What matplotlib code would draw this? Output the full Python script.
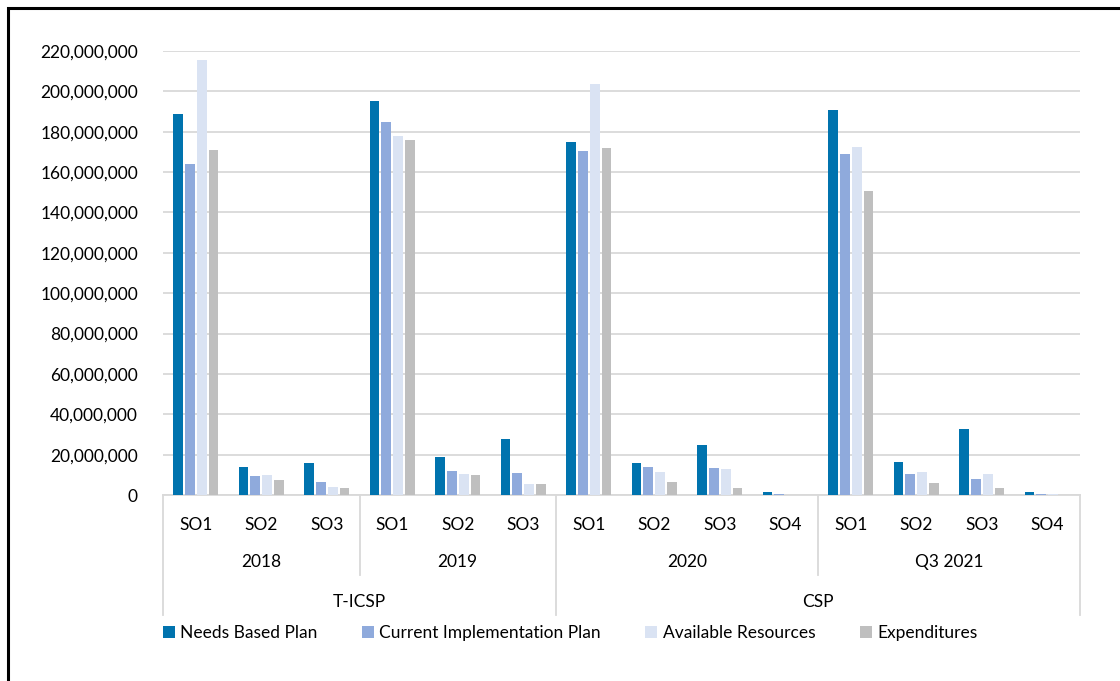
import numpy as np
import matplotlib.pyplot as plt
from matplotlib.patches import Rectangle

plt.rcParams['font.family'] = ['Lato', 'DejaVu Sans']

# categories
so_labels = ['SO1', 'SO2', 'SO3', 'SO1', 'SO2', 'SO3',
             'SO1', 'SO2', 'SO3', 'SO4', 'SO1', 'SO2', 'SO3', 'SO4']
years = ['2018', '2019', '2020', 'Q3 2021']
year_sizes = [3, 3, 4, 4]
programs = ['T-ICSP', 'CSP']
program_sizes = [6, 8]

# series values
needs_based = [188.9e6, 13.9e6, 16.0e6, 195.4e6, 18.9e6, 27.8e6,
               174.7e6, 15.7e6, 24.8e6, 1.5e6, 190.9e6, 16.4e6, 32.8e6, 1.5e6]
current_impl = [163.8e6, 9.3e6, 6.3e6, 184.8e6, 11.9e6, 11.1e6,
                170.4e6, 13.9e6, 13.4e6, 0.7e6, 169.2e6, 10.3e6, 8.1e6, 0.3e6]
available = [215.4e6, 9.8e6, 4.1e6, 177.8e6, 10.6e6, 5.3e6,
             203.6e6, 11.4e6, 13.1e6, 0.0, 172.4e6, 11.4e6, 10.6e6, 0.3e6]
expenditures = [170.7e6, 7.4e6, 3.5e6, 175.8e6, 9.9e6, 5.3e6,
                171.9e6, 6.6e6, 3.6e6, 0.0, 150.4e6, 6.0e6, 3.5e6, 0.0]

series_names = ['Needs Based Plan', 'Current Implementation Plan',
                'Available Resources', 'Expenditures']
series = [needs_based, current_impl, available, expenditures]
colors = ['#0073AE', '#8FAADC', '#DAE3F3', '#BFBFBF']


def main():
    fig = plt.figure(figsize=(11.2, 6.81), dpi=100)
    ax = fig.add_axes([163 / 1120, 1 - 495 / 681, (1080 - 163) / 1120, (495 - 51) / 681])

    x = np.arange(len(so_labels))
    step = 0.18
    width = 0.15
    for i, (name, vals, c) in enumerate(zip(series_names, series, colors)):
        ax.bar(x + (i - 1.5) * step, vals, width, color=c, label=name, zorder=3)

    ax.set_xlim(-0.5, len(so_labels) - 0.5)
    ax.set_ylim(0, 220e6)
    ax.set_yticks(np.arange(0, 220e6 + 1, 20e6))
    ax.set_yticklabels([f'{int(v):,}' for v in np.arange(0, 220e6 + 1, 20e6)])
    ax.yaxis.grid(True, color='#D9D9D9', lw=1.3, zorder=0)
    ax.tick_params(axis='y', length=0, pad=18, labelsize=12.5)
    ax.tick_params(axis='x', length=0, pad=16, labelsize=12.5)
    ax.set_xticks(x)
    ax.set_xticklabels(so_labels)
    for s in ['top', 'right', 'left']:
        ax.spines[s].set_visible(False)
    ax.spines['bottom'].set_color('#D9D9D9')
    ax.spines['bottom'].set_linewidth(1.3)

    # multi-level category axis
    h = 495 - 51
    tr = ax.get_xaxis_transform()
    y_year = -(562 - 495) / h
    y_prog = -(602 - 495) / h
    short = -(575 - 495) / h
    long_ = -(615 - 495) / h

    start = -0.5
    for lab, n in zip(years, year_sizes):
        ax.text(start + n / 2, y_year, lab, transform=tr, ha='center', va='center', fontsize=12.5)
        start += n
    start = -0.5
    for lab, n in zip(programs, program_sizes):
        ax.text(start + n / 2, y_prog, lab, transform=tr, ha='center', va='center', fontsize=12.5)
        start += n

    bounds = np.cumsum([0] + year_sizes) - 0.5
    prog_bounds = set(np.cumsum([0] + program_sizes) - 0.5)
    for b in bounds:
        y_end = long_ if b in prog_bounds else short
        ax.plot([b, b], [0, y_end], transform=tr, color='#D9D9D9', lw=1.3, clip_on=False)

    fig.legend(loc='center', bbox_to_anchor=(0.509, 1 - 633 / 681), ncol=4, frameon=False,
               fontsize=12.5, handlelength=0.7, handleheight=0.7, handletextpad=0.3,
               columnspacing=2.55)

    # outer border
    fig.patches.append(Rectangle((8 / 1120, -0.1), 1.2, 1 - 8 / 681 + 0.1, transform=fig.transFigure,
                                 fill=False, edgecolor='black', lw=2.2))

    fig.savefig('out.png', dpi=100)


if __name__ == '__main__':
    main()
